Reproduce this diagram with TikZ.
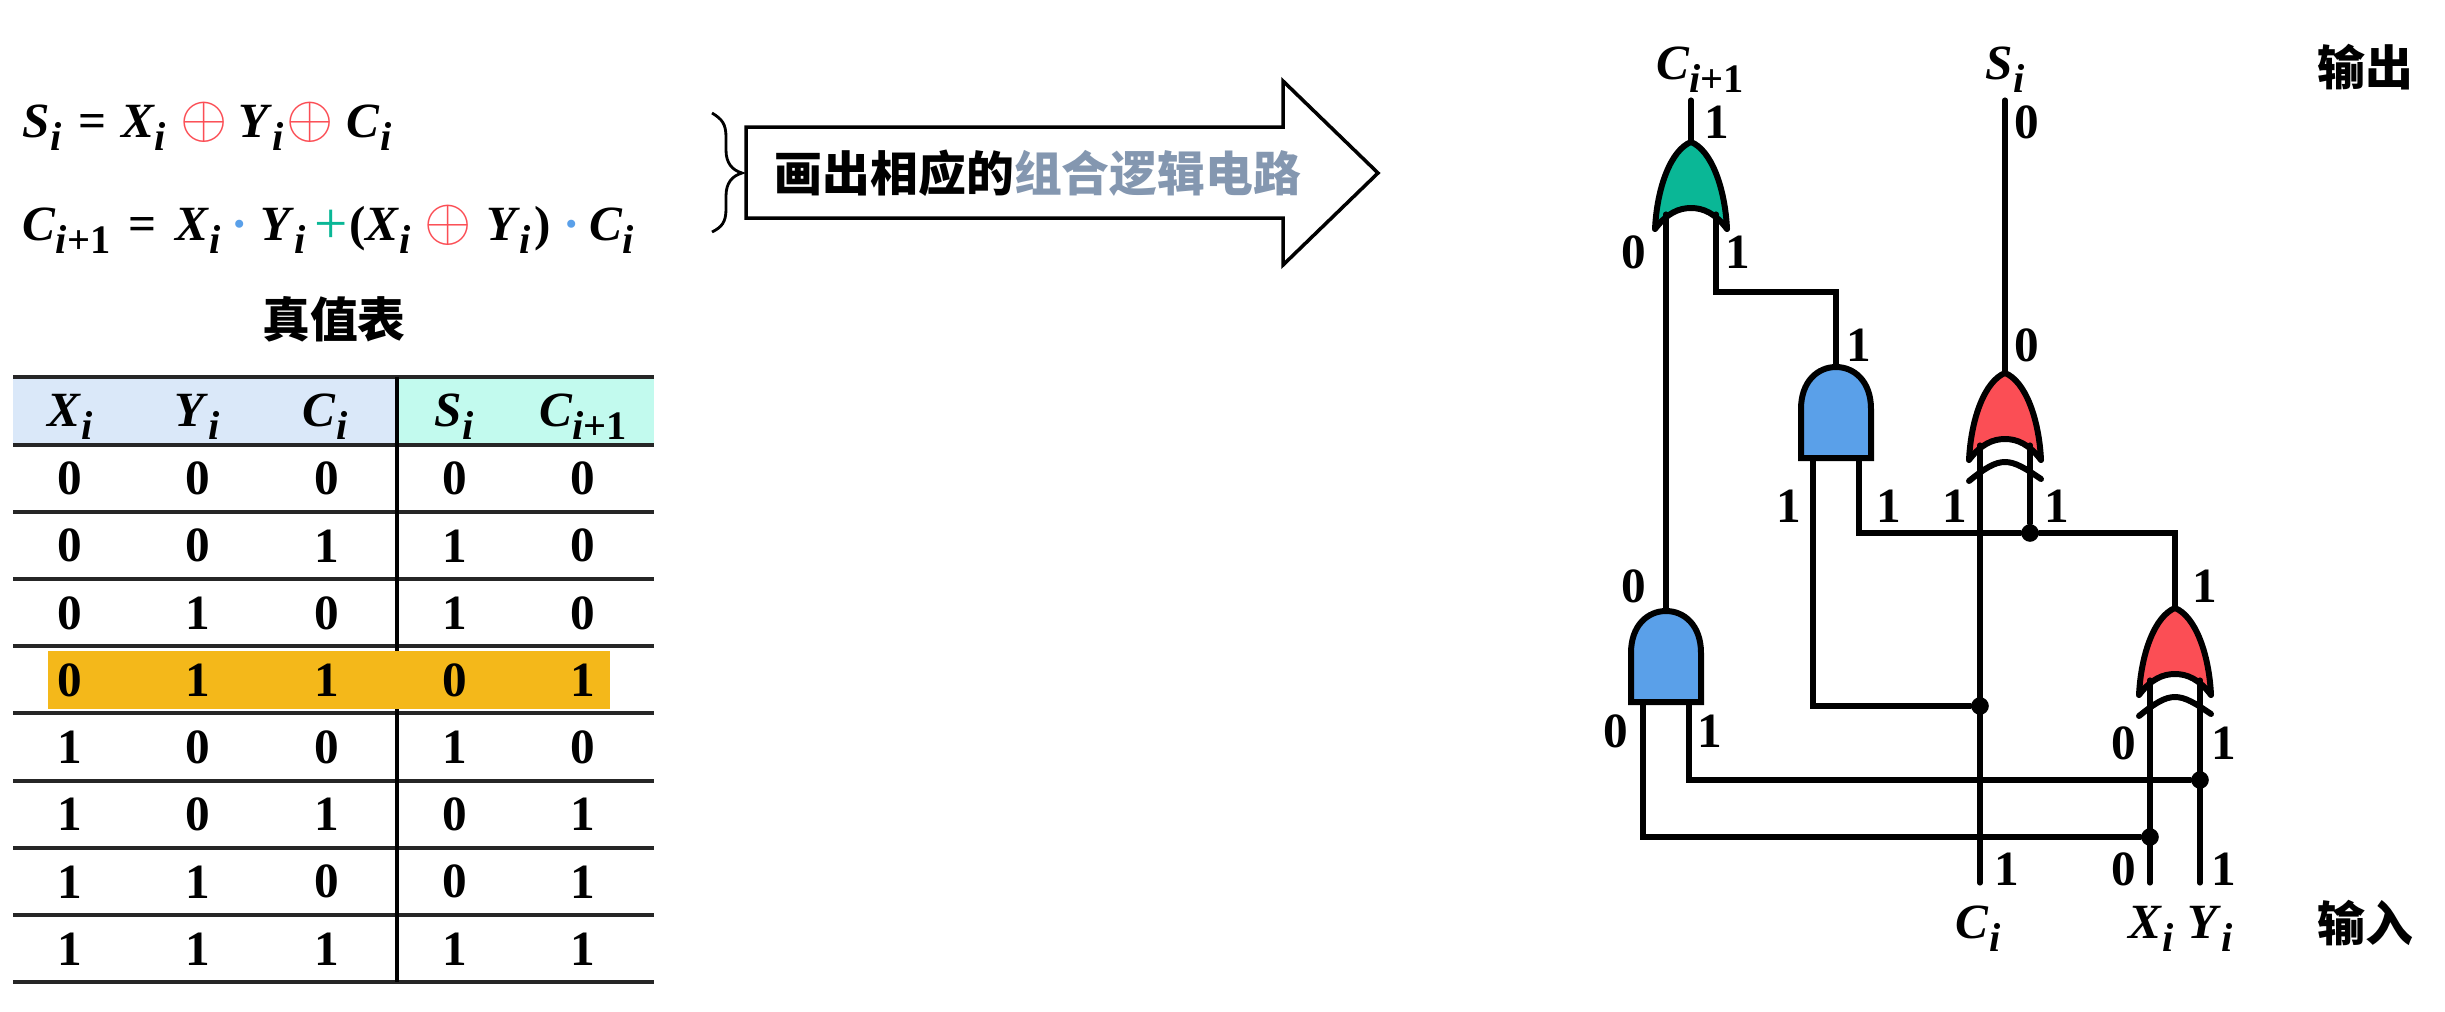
\documentclass[tikz,border=0pt]{standalone}
\usepackage{fontspec}
\usepackage{amsmath}
\setmainfont{Liberation Serif}
\newfontfamily\cjk{Noto Sans CJK SC}
\usetikzlibrary{positioning}

\definecolor{andblue}{HTML}{5AA0E9}
\definecolor{xorred}{HTML}{FB4E55}
\definecolor{orgreen}{HTML}{0AB796}
\definecolor{headblue}{HTML}{DAE8F9}
\definecolor{headmint}{HTML}{C2FAEE}
\definecolor{rowgold}{HTML}{F4B81A}
\definecolor{textgray}{HTML}{8497B0}

\newcommand{\bitsize}{\fontsize{14}{16}\selectfont}
\newcommand{\subdrop}[1]{\raisebox{-0.27em}{\fontsize{11.5}{12}\selectfont #1}}
\newcommand{\vsub}[2]{\textit{#1}\subdrop{\textit{#2}}}
\newcommand{\carrynext}{\textit{C}\subdrop{\textit{i}+1}}
\newcommand{\xorop}{\textcolor{xorred}{\scalebox{1.2}{\unboldmath$\oplus$}}}
\newcommand{\plusop}{\textcolor{orgreen}{\mdseries\raisebox{-1pt}{\scalebox{1.2}{+}}}}

\tikzset{
    wire/.style={line width=1.45pt, line cap=round},
    bit/.style={font=\bfseries\bitsize, inner sep=0pt},
    pinlabel/.style={font=\bfseries\bitsize, inner sep=0pt},
    heading/.style={font=\cjk\bfseries\fontsize{13.6}{16}\selectfont, inner sep=0pt},
    formula/.style={font=\bfseries\bitsize, inner sep=0pt, anchor=base west},
    junction/.style={circle, fill=black, inner sep=0pt, minimum size=5pt},
    andgate/.pic={
        \draw[line width=1.7pt, line join=miter, fill=andblue] (-35,91) -- (-35,42)
            .. controls (-35,14) and (-18,0) .. (0,0)
            .. controls (18,0) and (35,14) .. (35,42) -- (35,91) -- cycle;
        \coordinate (-out) at (0,0);
        \coordinate (-a) at (-23,91);
        \coordinate (-b) at (23,91);
    },
    orgate/.pic={
        \draw[line width=1.7pt, line join=round, fill=#1] (0,0)
            .. controls (20,8) and (34,45) .. (36,87)
            .. controls (24,71) and (12,66) .. (0,66)
            .. controls (-12,66) and (-24,71) .. (-36,87)
            .. controls (-34,45) and (-20,8) .. cycle;
        \coordinate (-out) at (0,0);
        \coordinate (-a) at (-25,72);
        \coordinate (-b) at (25,72);
    },
    xorgate/.pic={
        \pic {orgate=xorred};
        \draw[line width=1.7pt, line cap=round] (-36,108)
            .. controls (-20,95) and (-10,89) .. (0,89)
            .. controls (10,89) and (20,95) .. (36,106);
        \coordinate (-out) at (0,0);
        \coordinate (-a) at (-25,72);
        \coordinate (-b) at (25,72);
    }
}

\begin{document}
\begin{tikzpicture}[x=0.01cm, y=-0.01cm]
    \useasboundingbox (0,0) rectangle (2445,1011);

    % formulas
    \node[formula] (fsum) at (22,137) {\vsub{S}{i}\hspace{5pt}=\hspace{4pt}\vsub{X}{i}\hspace{4.2pt}\xorop\hspace{3pt}\vsub{Y}{i}\hspace{0.8pt}\xorop\hspace{3.7pt}\vsub{C}{i}};
    \node[formula] (fcarry) at (22,240) {\carrynext\hspace{5pt}=\hspace{5.6pt}\vsub{X}{i}\hspace{3.1pt}\textcolor{andblue}{·}\hspace{3.4pt}\vsub{Y}{i}\hspace{2.5pt}\plusop\hspace{0.5pt}(\vsub{X}{i}\hspace{4pt}\xorop\hspace{4pt}\vsub{Y}{i}\hspace{1pt})\hspace{3.6pt}\textcolor{andblue}{·}\hspace{2.6pt}\vsub{C}{i}};
    \draw[line width=0.8pt] (712,113) .. controls (722,119) and (726,124) .. (726,137)
        -- (726,150) .. controls (726,163) and (732,170) .. (742,173)
        .. controls (732,176) and (726,183) .. (726,196)
        -- (726,209) .. controls (726,222) and (722,227) .. (712,232);

    % big arrow
    \draw[line width=1pt, line join=miter] (746,127) -- (1283,127) -- (1283,81) -- (1378,173)
        -- (1283,265) -- (1283,218) -- (746,218) -- cycle;
    \node[heading] (todo) at (1038,173) {画出相应的\textcolor{textgray}{组合逻辑电路}};

    % truth table
    \node[heading] (ttitle) at (334,319) {真值表};
    \fill[headblue] (13,377) rectangle (397,445);
    \fill[headmint] (397,377) rectangle (654,445);
    \foreach \y in {377,445,512,579,646,713,781,848,915,982}
        \draw[line width=1pt, black!85] (13,\y) -- (654,\y);
    \draw[line width=0.9pt] (397,377) -- (397,982);
    \fill[rowgold] (48,651) rectangle (610,709);
    \node[pinlabel] (hx) at (70,417) {\vsub{X}{i}};
    \node[pinlabel] (hy) at (197,417) {\vsub{Y}{i}};
    \node[pinlabel] (hc) at (325,417) {\vsub{C}{i}};
    \node[pinlabel] (hs) at (454,417) {\vsub{S}{i}};
    \node[pinlabel] (hn) at (583,417) {\carrynext};
    \foreach \vals [count=\r] in {{0,0,0,0,0},{0,0,1,1,0},{0,1,0,1,0},{0,1,1,0,1},{1,0,0,1,0},{1,0,1,0,1},{1,1,0,0,1},{1,1,1,1,1}}
        \foreach \v [count=\c] in \vals
            \node[bit] (t\r\c) at ({70+128.2*(\c-1)},{478.6+67.2*(\r-1)}) {\v};

    % gates
    \pic (org) at (1691,142) {orgate=orgreen};
    \pic (andb) at (1836,367) {andgate};
    \pic (xors) at (2005,373) {xorgate};
    \pic (anda) at (1666,611) {andgate};
    \pic (xorc) at (2175,608) {xorgate};

    % ends and junctions
    \coordinate (cout) at (1691,100);
    \coordinate (sout) at (2005,100);
    \coordinate (cin) at (1980,883);
    \coordinate (xin) at (2150,883);
    \coordinate (yin) at (2200,883);
    \coordinate (bend) at (1716,292);
    \node[junction] (n1) at (2030,533) {};
    \node[junction] (n2) at (1980,706) {};
    \node[junction] (n3) at (2200,780) {};
    \node[junction] (n4) at (2150,837) {};

    % wires
    \draw[wire] (cout) -- (org-out);
    \draw[wire] (sout) -- (xors-out);
    \draw[wire] (org-a) -- (anda-out);
    \draw[wire] (org-b) -- (bend) -| (andb-out);
    \draw[wire] (andb-b) |- (n1);
    \draw[wire] (n1) -- (xors-b);
    \draw[wire] (n1) -| (xorc-out);
    \draw[wire] (cin) -- (xors-a);
    \draw[wire] (n2) -| (andb-a);
    \draw[wire] (xin) -- (xorc-a);
    \draw[wire] (yin) -- (xorc-b);
    \draw[wire] (n3) -| (anda-b);
    \draw[wire] (n4) -| (anda-a);

    % values on the wires
    \foreach \x/\y/\v [count=\k] in {1717/122/1,2027/122/0,1634/252/0,1738/252/1,1859/345/1,2027/345/0,
            1789/506/1,1889/506/1,1955/506/1,2057/506/1,1634/586/0,2205/586/1,1616/731/0,1710/731/1,
            2124/743/0,2224/743/1,2007/869/1,2124/869/0,2224/869/1}
        \node[bit] (v\k) at (\x,\y) {\v};

    % names of the signals
    \node[pinlabel] (lcout) at (1700,70) {\carrynext};
    \node[pinlabel] (lsout) at (2005,70) {\vsub{S}{i}};
    \node[pinlabel] (lcin) at (1978,929) {\vsub{C}{i}};
    \node[pinlabel] (lxin) at (2151,929) {\vsub{X}{i}};
    \node[pinlabel] (lyin) at (2210,929) {\vsub{Y}{i}};
    \node[heading] (lout) at (2365,67) {输出};
    \node[heading] (lin) at (2365,923) {输入};
\end{tikzpicture}
\end{document}
